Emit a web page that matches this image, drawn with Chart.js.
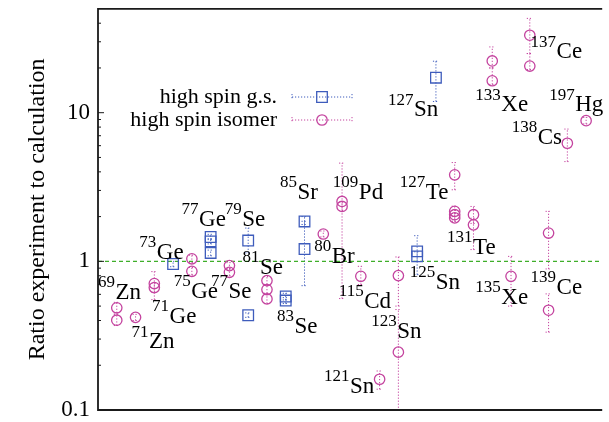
<!DOCTYPE html>
<html><head><meta charset="utf-8">
<script src="https://cdn.jsdelivr.net/npm/chart.js@4.4.0/dist/chart.umd.min.js"></script>
<style>html,body{margin:0;padding:0;background:#fff;}canvas{display:block;}</style>
</head><body>
<canvas id="c" width="609" height="422"></canvas>
<script>
// ---- data ----
// nuclide positions on the x axis (index 1..26)
const categories = ['69Zn','71Zn','71Ge','73Ge','75Ge','77Ge','77Se','79Se/81Se','81Se','83Se','85Sr','80Br','109Pd','115Cd','121Sn','123Sn','125Sn','127Sn','127Te','131Te','133Xe','135Xe','137Ce','139Ce','138Cs','197Hg'];

// high spin ground states
const gsX  = [4, 6, 6, 6, 8, 8, 10, 10, 11, 11, 17, 17, 18];
const gsY  = [0.96, 1.458, 1.362, 1.139, 1.38, 0.434, 0.58, 0.545, 1.855, 1.21, 1.167, 1.08, 17.2];
const gsLo = [0.92, 1.40, 1.31, 1.09, 1.14, 0.42, 0.55, 0.52, 1.77, 0.686, 0.814, 1.00, 11.9];
const gsHi = [1.00, 1.52, 1.42, 1.19, 1.675, 0.45, 0.61, 0.57, 2.00, 1.86, 1.488, 1.16, 22.2];

// high spin isomers
const isoX  = [1, 1, 2, 3, 3, 5, 5, 7, 7, 9, 9, 9, 12, 13, 13, 14, 15, 16, 16, 19, 19, 19, 19, 20, 20, 21, 21, 22, 23, 23, 24, 24, 25, 26];
const isoY  = [0.487, 0.402, 0.42, 0.709, 0.666, 1.04, 0.857, 0.936, 0.844, 0.742, 0.646, 0.559, 1.527, 2.53, 2.34, 0.793, 0.161, 0.802, 0.245, 3.82, 2.17, 2.06, 1.96, 2.06, 1.76, 22.3, 16.4, 0.793, 33.2, 20.6, 1.55, 0.469, 6.23, 8.84];
const isoLo = [0.45, 0.37, 0.40, 0.553, 0.62, 0.98, 0.81, 0.89, 0.80, 0.70, 0.61, 0.52, 1.46, 0.562, 2.2, 0.698, 0.138, 0.50, 0.09, 3.03, 2.0, 1.9, 1.85, 1.8, 1.2, 20.0, 15.5, 0.50, 25.0, 19.5, 0.889, 0.334, 4.69, 8.4];
const isoHi = [0.53, 0.44, 0.44, 0.853, 0.71, 1.10, 0.91, 0.98, 0.89, 0.79, 0.69, 0.60, 1.60, 4.58, 2.5, 0.926, 0.183, 1.07, 0.474, 4.62, 2.35, 2.2, 2.1, 2.34, 1.95, 27.7, 20.0, 1.08, 43.1, 25.0, 2.17, 0.604, 7.76, 9.3];

// reference line (ratio = 1)
const refX = [0, 26.75];
const refY = [1, 1];

// y tick labels
const yTickLabels = [0.1, 1, 10];
const yMinorTicks = [0.2,0.3,0.4,0.5,0.6,0.7,0.8,0.9,2,3,4,5,6,7,8,9,20,30,40];

// nuclide labels (mass, symbol, anchor in data units)
const labelMass = ['69','71','73','71','75','77','77','79','81','83','85','80','109','115','123','121','125','127','127','133','137','197','138','131','135','139'];
const labelSym  = ['Zn','Zn','Ge','Ge','Ge','Se','Ge','Se','Se','Se','Sr','Br','Pd','Cd','Sn','Sn','Sn','Te','Sn','Xe','Ce','Hg','Cs','Te','Xe','Ce'];
const labelX    = [0.0, 1.78, 2.2, 2.88, 4.03, 6.02, 4.45, 6.75, 7.7, 9.53, 9.69, 11.52, 12.51, 12.83, 14.55, 12.04, 16.6, 16.07, 15.45, 20.1, 23.04, 24.03, 22.04, 18.59, 20.1, 23.04];
const labelY    = [0.616, 0.285, 1.144, 0.425, 0.626, 0.626, 1.905, 1.905, 0.907, 0.364, 2.89, 1.075, 2.89, 0.536, 0.337, 0.144, 0.72, 2.89, 10.4, 11.26, 25.5, 11.26, 6.76, 1.236, 0.571, 0.666];

const legendLabels = ['high spin g.s.', 'high spin isomer'];

// ---- styles ----
const SERIF = "'Liberation Serif', 'DejaVu Serif', serif";
const BLUE = '#3e5cbc';
const PINK = '#c4449f';
const GREEN = '#3fae2a';
const FRAME = '#1a1a1a';

const toPts = (xs, ys) => xs.map((v, i) => ({x: v, y: ys[i]}));

function drawErr(ctx, x, y, xs, lo, hi, color) {
  ctx.strokeStyle = color;
  ctx.lineWidth = 1;
  ctx.setLineDash([1.2, 1.8]);
  xs.forEach((xv, i) => {
    const px = x.getPixelForValue(xv);
    const p1 = y.getPixelForValue(lo[i]);
    const p2 = y.getPixelForValue(hi[i]);
    ctx.beginPath();
    ctx.moveTo(px, p1); ctx.lineTo(px, p2);
    ctx.moveTo(px - 3, p1); ctx.lineTo(px + 3, p1);
    ctx.moveTo(px - 3, p2); ctx.lineTo(px + 3, p2);
    ctx.stroke();
  });
  ctx.setLineDash([]);
}

const customPlugin = {
  id: 'custom',
  beforeDatasetsDraw(chart) {
    const {ctx, chartArea: a, scales: {x, y}} = chart;
    ctx.save();
    ctx.beginPath();
    ctx.rect(a.left, a.top, a.right - a.left, a.bottom - a.top);
    ctx.clip();
    drawErr(ctx, x, y, gsX, gsLo, gsHi, BLUE);
    drawErr(ctx, x, y, isoX, isoLo, isoHi, PINK);
    ctx.restore();
  },
  afterDatasetsDraw(chart) {
    const {ctx, scales: {x, y}} = chart;
    ctx.save();
    ctx.fillStyle = '#000';
    ctx.textBaseline = 'middle';
    ctx.textAlign = 'left';
    labelMass.forEach((m, i) => {
      const px = x.getPixelForValue(labelX[i]);
      const py = y.getPixelForValue(labelY[i]);
      ctx.font = `17px ${SERIF}`;
      ctx.fillText(m, px, py - 10);
      const w = ctx.measureText(m).width;
      ctx.font = `23px ${SERIF}`;
      ctx.fillText(labelSym[i], px + w + 0.5, py);
    });
    ctx.restore();
  },
  afterDraw(chart) {
    const {ctx, chartArea: a, scales: {y}} = chart;
    ctx.save();
    // frame
    ctx.strokeStyle = FRAME;
    ctx.lineWidth = 1.8;
    ctx.beginPath();
    ctx.moveTo(a.right + 2, a.top);
    ctx.lineTo(a.left, a.top);
    ctx.lineTo(a.left, a.bottom);
    ctx.lineTo(a.right + 2, a.bottom);
    ctx.stroke();
    // inward ticks
    ctx.lineWidth = 1;
    ctx.beginPath();
    yTickLabels.forEach(v => {
      const py = y.getPixelForValue(v);
      ctx.moveTo(a.left, py); ctx.lineTo(a.left + 6, py);
    });
    yMinorTicks.forEach(v => {
      const py = y.getPixelForValue(v);
      ctx.moveTo(a.left, py); ctx.lineTo(a.left + 3, py);
    });
    ctx.stroke();
    // legend
    const rows = [{c: BLUE, s: 'rect', yy: 97}, {c: PINK, s: 'circle', yy: 120}];
    ctx.font = `22px ${SERIF}`;
    ctx.textAlign = 'right';
    ctx.textBaseline = 'middle';
    ctx.fillStyle = '#000';
    rows.forEach((r, i) => {
      ctx.fillText(legendLabels[i], 277, r.yy);
      ctx.strokeStyle = r.c;
      ctx.lineWidth = 1;
      ctx.setLineDash([1.2, 1.8]);
      ctx.beginPath();
      ctx.moveTo(292, r.yy); ctx.lineTo(352, r.yy);
      ctx.moveTo(292, r.yy - 3); ctx.lineTo(292, r.yy + 3);
      ctx.moveTo(352, r.yy - 3); ctx.lineTo(352, r.yy + 3);
      ctx.stroke();
      ctx.setLineDash([]);
      ctx.lineWidth = 1.3;
      ctx.beginPath();
      if (r.s === 'rect') ctx.rect(322 - 5.3, r.yy - 5.3, 10.6, 10.6);
      else ctx.arc(322, r.yy, 5.2, 0, Math.PI * 2);
      ctx.stroke();
    });
    ctx.restore();
  }
};

new Chart(document.getElementById('c'), {
  type: 'scatter',
  data: {
    datasets: [
      {
        type: 'line', data: toPts(refX, refY), borderColor: GREEN, borderWidth: 1.3,
        borderDash: [4, 3], pointRadius: 0, fill: false, order: 3
      },
      {
        label: legendLabels[0], data: toPts(gsX, gsY), pointStyle: 'rect', pointRadius: 7.5,
        borderColor: BLUE, backgroundColor: 'rgba(0,0,0,0)', pointBorderWidth: 1.3, order: 1
      },
      {
        label: legendLabels[1], data: toPts(isoX, isoY), pointStyle: 'circle', pointRadius: 5.2,
        borderColor: PINK, backgroundColor: 'rgba(0,0,0,0)', pointBorderWidth: 1.3, order: 2
      }
    ]
  },
  options: {
    responsive: false,
    animation: false,
    devicePixelRatio: 1,
    events: [],
    layout: {padding: {top: 8, bottom: 12, left: 0, right: 0}},
    plugins: {legend: {display: false}, tooltip: {enabled: false}},
    scales: {
      x: {type: 'linear', min: 0, max: 26.75, display: false},
      y: {
        type: 'logarithmic', min: 0.1, max: 50,
        afterFit(s) { s.width = 98; s.paddingTop = 0; s.paddingBottom = 0; },
        afterBuildTicks(s) { s.ticks = yTickLabels.map(v => ({value: v})); },
        grid: {display: false, drawTicks: false},
        border: {display: false},
        ticks: {font: {family: SERIF, size: 23}, color: '#000', padding: 8, callback: v => String(v)},
        title: {display: true, text: 'Ratio experiment to calculation', color: '#000',
                font: {family: SERIF, size: 24}, padding: {top: 23, bottom: 0}}
      }
    }
  },
  plugins: [customPlugin]
});
</script>
</body></html>
